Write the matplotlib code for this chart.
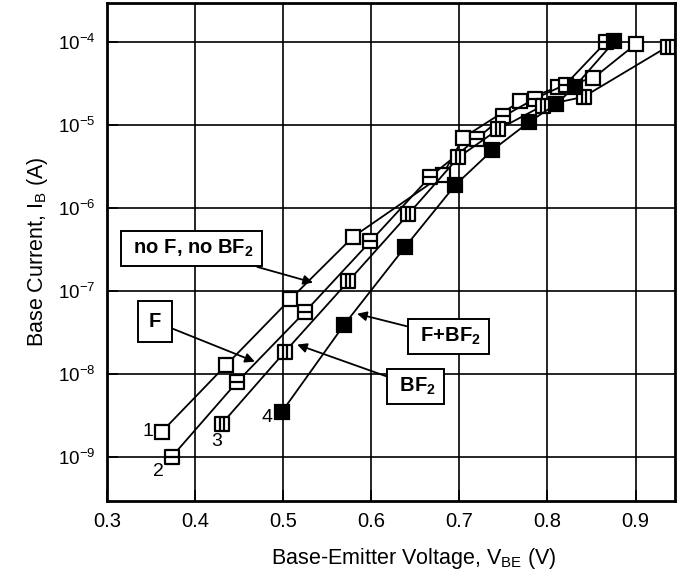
import matplotlib
matplotlib.use('Agg')
import matplotlib.pyplot as plt
from matplotlib.path import Path
import numpy as np

plt.rcParams['font.family'] = ['Liberation Sans', 'DejaVu Sans']
plt.rcParams['mathtext.default'] = 'regular'

# curve 1: no F, no BF2 (open squares)
v1 = [0.3625, 0.435, 0.508, 0.5795, 0.681, 0.7045, 0.769, 0.8125, 0.852, 0.900]
i1 = [2.0e-9, 1.26e-8, 7.9e-8, 4.5e-7, 2.5e-6, 7.1e-6, 1.94e-5, 2.9e-5, 3.7e-5, 9.5e-5]
# curve 2: F
v2 = [0.374, 0.448, 0.525, 0.599, 0.667, 0.720, 0.750, 0.786, 0.8205, 0.866]
i2 = [1.0e-9, 8.0e-9, 5.6e-8, 3.95e-7, 2.4e-6, 6.9e-6, 1.28e-5, 2.1e-5, 3.1e-5, 1.0e-4]
# curve 3: BF2
v3 = [0.4307, 0.5023, 0.5739, 0.642, 0.699, 0.744, 0.795, 0.841, 0.9364]
i3 = [2.5e-9, 1.85e-8, 1.3e-7, 8.4e-7, 4.1e-6, 8.9e-6, 1.73e-5, 2.2e-5, 8.9e-5]
# curve 4: F+BF2 (filled)
v4 = [0.4989, 0.5693, 0.6386, 0.6955, 0.7375, 0.7795, 0.810, 0.8307, 0.876]
i4 = [3.5e-9, 3.9e-8, 3.4e-7, 1.9e-6, 5.0e-6, 1.1e-5, 1.8e-5, 2.9e-5, 1.03e-4]

MOVE, LINE, CLOSE = Path.MOVETO, Path.LINETO, Path.CLOSEPOLY
sq = [(-1, -1), (1, -1), (1, 1), (-1, 1), (-1, -1)]
sqc = [MOVE, LINE, LINE, LINE, CLOSE]
m_h = Path(sq + [(-1, 0), (1, 0)], sqc + [MOVE, LINE])
m_v = Path(sq + [(-0.3, -1), (-0.3, 1), (0.3, -1), (0.3, 1)],
           sqc + [MOVE, LINE, MOVE, LINE])

fig = plt.figure(figsize=(6.8, 5.76), dpi=100)
ax = fig.add_axes([0.157, 0.130, 0.836, 0.865])

kw = dict(color='black', lw=1.3, markersize=9.8, markeredgewidth=1.6,
          markeredgecolor='black')
ax.plot(v1, i1, marker='s', markerfacecolor='white', **kw)
ax.plot(v2, i2, marker=m_h, markerfacecolor='white', **kw)
ax.plot(v3, i3, marker=m_v, markerfacecolor='white', **kw)
ax.plot(v4, i4, marker='s', markerfacecolor='black', **kw)

ax.set_yscale('log')
ax.set_xlim(0.3, 0.945)
ax.set_ylim(2.9e-10, 3.0e-4)
ax.set_xticks([0.3, 0.4, 0.5, 0.6, 0.7, 0.8, 0.9])
ax.set_xticklabels(['0.3', '0.4', '0.5', '0.6', '0.7', '0.8', '0.9'])
ax.set_yticks([1e-9, 1e-8, 1e-7, 1e-6, 1e-5, 1e-4])
ax.set_yticklabels(['$10^{-9}$', '$10^{-8}$', '$10^{-7}$', '$10^{-6}$',
                    '$10^{-5}$', '$10^{-4}$'])
ax.minorticks_off()
ax.grid(True, color='black', lw=1.2)
for s in ax.spines.values():
    s.set_linewidth(2)
ax.tick_params(direction='in', length=8, width=1.2, pad=8)
ax.tick_params(axis='x', labelsize=14.5)
ax.tick_params(axis='y', labelsize=13.5)

ax.set_xlabel('Base-Emitter Voltage, V$_{BE}$ (V)', fontsize=15.5)
ax.xaxis.set_label_coords(0.54, -0.09)
ax.set_ylabel('Base Current, I$_B$ (A)', fontsize=15.5, labelpad=6)

box = dict(boxstyle='square,pad=0.35', fc='white', ec='black', lw=1.4)
arr = dict(arrowstyle='-|>', color='black', lw=1.3, mutation_scale=14,
           shrinkA=0, shrinkB=0)
tkw = dict(ha='center', va='center', fontsize=14.5, fontweight='bold',
           bbox=box, arrowprops=arr)
ax.annotate(' no F, no BF$_2$ ', xy=(0.534, 1.26e-7), xytext=(0.3966, 3.25e-7), **tkw)
ax.annotate('F', xy=(0.468, 1.4e-8), xytext=(0.3545, 4.27e-8),
            ha='center', va='center', fontsize=14.5, fontweight='bold',
            bbox=dict(boxstyle='square,pad=0.55', fc='white', ec='black', lw=1.4),
            arrowprops=arr)
ax.annotate(' F+BF$_2$ ', xy=(0.584, 5.3e-8), xytext=(0.6875, 2.8e-8), **tkw)
ax.annotate(' BF$_2$ ', xy=(0.516, 2.25e-8), xytext=(0.65, 7.0e-9), **tkw)

for t, x, y in [('1', 0.3466, 2.0e-9), ('2', 0.359, 6.6e-10),
                ('3', 0.425, 1.5e-9), ('4', 0.482, 2.95e-9)]:
    ax.text(x, y, t, ha='center', va='center', fontsize=14)

fig.savefig('out.png', dpi=100)
